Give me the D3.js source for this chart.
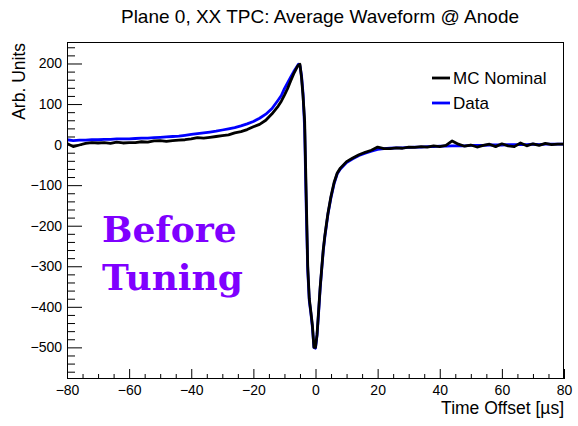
<!DOCTYPE html>
<html>
<head>
<meta charset="utf-8">
<script src="https://cdn.jsdelivr.net/npm/d3@7"></script>
<style>
  html, body { margin: 0; padding: 0; background: #fff; }
  svg { display: block; }
  text { font-family: "Liberation Sans", Arial, sans-serif; fill: #000; }
</style>
</head>
<body>
<svg id="chart" width="578" height="426"></svg>
<script>
// Sample times (µs) of the averaged waveform
const timeOffset = [
  -80,-78,-76,-74,-72,-70,-68,-66,-64,-62,-60,-58,-56,-54,-52,-50,-48,-46,-44,-42,
  -40,-38,-36,-34,-32,-30,-28,-26,-24,-22,-20,-18,-16,-14,-12,
  -11,-10,-9,-8,-7,-6,
  -5.5,-5,-4.5,-4,-3.5,-3,-2.5,-2,-1.5,-1,-0.5,0,0.5,1,1.5,2,2.5,3,3.5,4,
  5,6,7,8,9,10,
  12,14,16,18,20,22,24,26,28,30,32,34,36,38,40,42,44,46,48,50,
  52,54,56,58,60,62,64,66,68,70,72,74,76,78,80
];

// MC nominal response (arb. units)
const mcNominal = [
  3,-5,-1,3,5,4,5,3,6,4,5,5,7,6,9,10,8,10,11,12,
  14,17,16,18,20,22,24,29,32,37,44,50,60,76,95,
  107,122,138,157,175,190,
  196,198,165,118,60,-120,-300,-380,-412,-445,-500,-500,-468,-410,-352,-305,-259,-225,-197,-170,
  -127,-93,-70,-58,-50,-42,
  -33,-25,-19,-14,-6,-10,-10,-8,-9,-6,-7,-5,-6,-3,-5,-2,9,1,-4,-1,
  -6,-2,1,-5,2,-3,-5,4,-3,2,-2,3,0,1,1
];

// Measured data response (arb. units)
const dataWave = [
  12,10,11,11,12,12,13,13,14,14,14,15,16,16,17,18,19,20,21,23,
  25,27,29,31,33,36,39,42,46,51,57,65,75,89,110,
  121,138,152,166,180,192,
  198,194,170,125,40,-150,-310,-385,-415,-450,-500,-502,-470,-415,-355,-308,-262,-228,-200,-172,
  -130,-96,-72,-60,-52,-44,
  -35,-27,-21,-16,-12,-10,-9,-8,-8,-7,-6,-6,-5,-5,-4,-4,-3,-3,-3,-2,
  -2,-2,-1,-1,-1,0,0,0,0,1,0,1,1,1,1
];

const xMajorTicks = [-80,-60,-40,-20,0,20,40,60,80];
const yMajorTicks = [-500,-400,-300,-200,-100,0,100,200];

const titleText = "Plane 0, XX TPC: Average Waveform @ Anode";
const xTitle = "Time Offset [\u00b5s]";
const yTitle = "Arb. Units";
const legendLabels = ["MC Nominal", "Data"];
const noteLines = ["Before", "Tuning"];

const svg = d3.select("#chart");
const frame = { left: 67, right: 564, top: 42, bottom: 379 };

const x = d3.scaleLinear().domain([-80, 80]).range([frame.left, frame.right]);
const y = d3.scaleLinear().domain([-578, 253]).range([frame.bottom, frame.top]);

const minus = s => String(s).replace("-", "\u2212");

// Waveform curves (data underneath, MC on top)
const series = [
  { values: dataWave, color: "#0000ff" },
  { values: mcNominal, color: "#000000" }
];
const line = d3.line()
  .x((d, i) => x(timeOffset[i]))
  .y(d => y(d));
const plot = svg.append("g");
plot.append("clipPath").attr("id", "clip").append("rect")
  .attr("x", frame.left).attr("y", frame.top)
  .attr("width", frame.right - frame.left).attr("height", frame.bottom - frame.top);
series.forEach(s => {
  plot.append("path")
    .attr("clip-path", "url(#clip)")
    .attr("d", line(s.values))
    .attr("fill", "none")
    .attr("stroke", s.color)
    .attr("stroke-width", 2.8)
    .attr("stroke-linejoin", "round");
});

// Frame box
svg.append("rect")
  .attr("x", frame.left + 0.5).attr("y", frame.top + 0.5)
  .attr("width", frame.right - frame.left - 1).attr("height", frame.bottom - frame.top - 1)
  .attr("fill", "none").attr("stroke", "#000").attr("stroke-width", 1);

// X axis: major every 20, minor every 5
const xAxis = svg.append("g").attr("transform", `translate(0,${frame.bottom})`);
xAxis.call(d3.axisBottom(x).tickValues(d3.range(-80, 81, 5)).tickSize(0).tickFormat(""));
xAxis.select(".domain").remove();
xAxis.selectAll(".tick line")
  .attr("y2", d => (d % 20 === 0 ? -10 : -5))
  .attr("stroke", "#000");
const xLab = svg.append("g").attr("transform", `translate(0,${frame.bottom})`);
xLab.call(d3.axisBottom(x).tickValues(xMajorTicks).tickSize(0).tickPadding(0).tickFormat(minus));
xLab.select(".domain").remove();
xLab.selectAll(".tick text")
  .attr("y", 16).attr("dy", 0)
  .style("font-size", "14px")
  .style("font-family", '"Liberation Sans", Arial, sans-serif');

// Y axis: major every 100, minor every 20
const yAxis = svg.append("g").attr("transform", `translate(${frame.left},0)`);
yAxis.call(d3.axisLeft(y).tickValues(d3.range(-560, 241, 20)).tickSize(0).tickFormat(""));
yAxis.select(".domain").remove();
yAxis.selectAll(".tick line")
  .attr("x2", d => (d % 100 === 0 ? 15 : 8))
  .attr("stroke", "#000");
const yLab = svg.append("g").attr("transform", `translate(${frame.left},0)`);
yLab.call(d3.axisLeft(y).tickValues(yMajorTicks).tickSize(0).tickPadding(5).tickFormat(minus));
yLab.select(".domain").remove();
yLab.selectAll(".tick text")
  .style("font-size", "14px")
  .style("font-family", '"Liberation Sans", Arial, sans-serif');

// Titles
svg.append("text")
  .attr("x", 320).attr("y", 23)
  .attr("text-anchor", "middle")
  .style("font-size", "19px")
  .text(titleText);
svg.append("text")
  .attr("x", frame.right).attr("y", 414)
  .attr("text-anchor", "end")
  .style("font-size", "17.5px")
  .text(xTitle);
svg.append("text")
  .attr("transform", `translate(25,${frame.top + 1}) rotate(-90)`)
  .attr("text-anchor", "end")
  .style("font-size", "17.5px")
  .text(yTitle);

// Legend
const legend = svg.append("g");
[0, 1].forEach(i => {
  const ly = 78 + i * 25;
  legend.append("line")
    .attr("x1", 432).attr("x2", 450).attr("y1", ly).attr("y2", ly)
    .attr("stroke", series[1 - i].color).attr("stroke-width", 2.8);
  legend.append("text")
    .attr("x", 453).attr("y", ly + 6)
    .style("font-size", "17px")
    .text(legendLabels[i]);
});

// Annotation
noteLines.forEach((t, i) => {
  svg.append("text")
    .attr("x", 102).attr("y", 242 + i * 48)
    .style("font-family", '"DejaVu Serif", serif')
    .style("font-weight", "bold")
    .style("font-size", "36px")
    .style("fill", "#7f00ff")
    .text(t);
});
</script>
</body>
</html>
